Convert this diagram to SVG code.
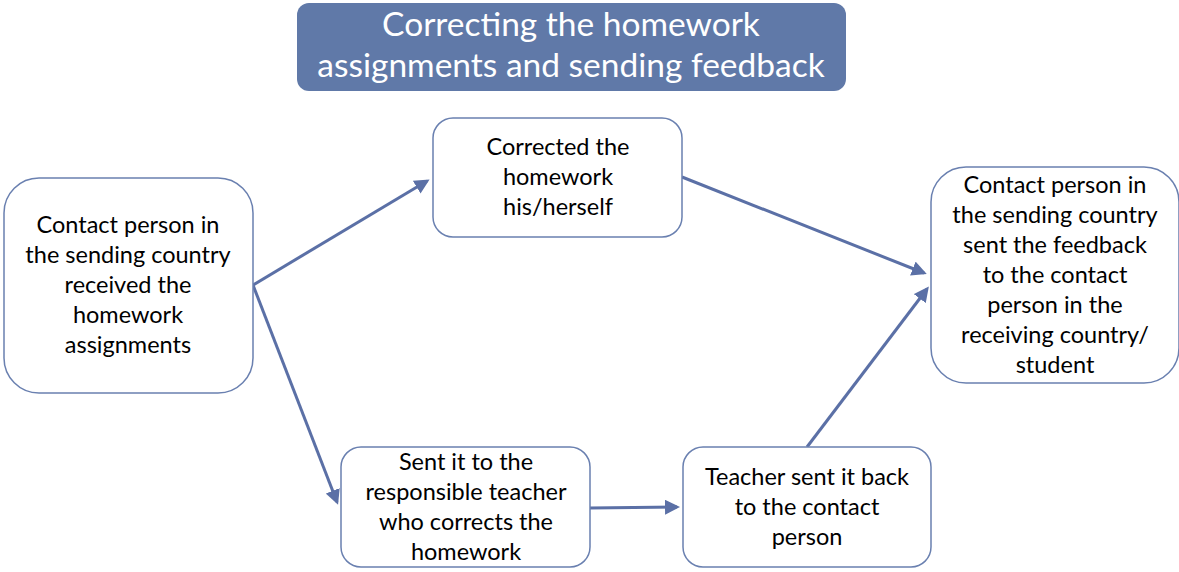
<svg xmlns="http://www.w3.org/2000/svg" width="1179" height="572" viewBox="0 0 1179 572">
<style>
.node{fill:#fff;stroke:#6a80b0;stroke-width:1.5}
.t{font-family:Lato,"Liberation Sans",sans-serif;font-size:23.5px;fill:#000;text-anchor:middle}
.title{font-family:Lato,"Liberation Sans",sans-serif;font-size:33.5px;font-weight:400;fill:#fff;text-anchor:middle}
.c{stroke:#5b70a6;stroke-width:3;fill:none;marker-end:url(#ah)}
</style>
<defs>
<marker id="ah" markerWidth="5" markerHeight="5" refX="4" refY="2.5" orient="auto" markerUnits="strokeWidth">
<path d="M0,0 L5,2.5 L0,5 Z" fill="#5b70a6"/>
</marker>
</defs>
<rect width="1179" height="572" fill="#fff"/>
<g id="title">
<rect x="297" y="3" width="549" height="88" rx="12" fill="#6079a8"/>
<text class="title" x="571" y="36">Correcting the homework</text>
<text class="title" x="571" y="77">assignments and sending feedback</text>
</g>
<g id="connectors">
<line class="c" x1="253" y1="285" x2="427" y2="181"/>
<line class="c" x1="253" y1="285" x2="337" y2="502"/>
<line class="c" x1="682" y1="177" x2="924" y2="273"/>
<line class="c" x1="590" y1="508" x2="677" y2="507"/>
<line class="c" x1="807" y1="447" x2="927" y2="289"/>
</g>
<g id="nodeA">
<rect class="node" x="4" y="178" width="249" height="215" rx="35"/>
<text class="t" x="128" y="233">Contact person in</text>
<text class="t" x="128" y="263">the sending country</text>
<text class="t" x="128" y="293">received the</text>
<text class="t" x="128" y="323">homework</text>
<text class="t" x="128" y="353">assignments</text>
</g>
<g id="nodeB">
<rect class="node" x="433" y="118" width="249" height="119" rx="20"/>
<text class="t" x="558" y="155">Corrected the</text>
<text class="t" x="558" y="185">homework</text>
<text class="t" x="558" y="215">his/herself</text>
</g>
<g id="nodeC">
<rect class="node" x="931" y="167" width="248" height="216" rx="35"/>
<text class="t" x="1055" y="193">Contact person in</text>
<text class="t" x="1055" y="223">the sending country</text>
<text class="t" x="1055" y="253">sent the feedback</text>
<text class="t" x="1055" y="283">to the contact</text>
<text class="t" x="1055" y="313">person in the</text>
<text class="t" x="1055" y="343">receiving country/</text>
<text class="t" x="1055" y="373">student</text>
</g>
<g id="nodeD">
<rect class="node" x="341" y="447" width="249" height="120" rx="20"/>
<text class="t" x="466" y="470">Sent it to the</text>
<text class="t" x="466" y="500">responsible teacher</text>
<text class="t" x="466" y="530">who corrects the</text>
<text class="t" x="466" y="560">homework</text>
</g>
<g id="nodeE">
<rect class="node" x="683" y="447" width="248" height="120" rx="20"/>
<text class="t" x="807" y="485">Teacher sent it back</text>
<text class="t" x="807" y="515">to the contact</text>
<text class="t" x="807" y="545">person</text>
</g>
</svg>
